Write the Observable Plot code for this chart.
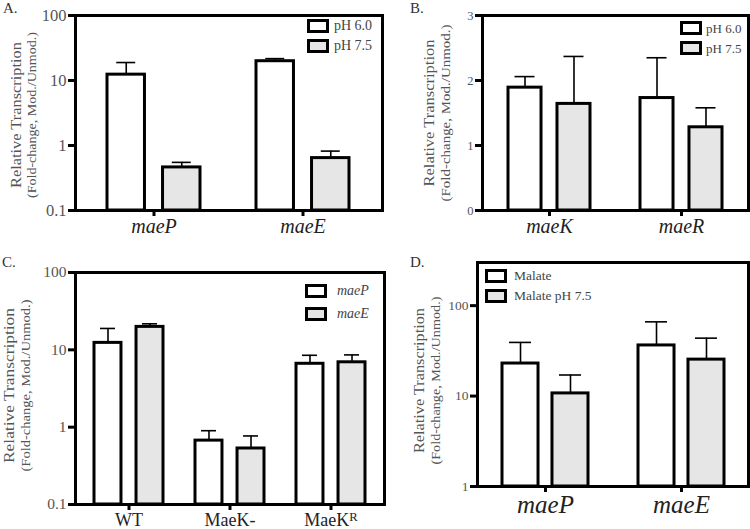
<!DOCTYPE html>
<html><head><meta charset="utf-8">
<script src="https://cdn.jsdelivr.net/npm/d3@7"></script>
<script src="https://cdn.jsdelivr.net/npm/@observablehq/plot@0.6"></script>
<style>
body{margin:0;background:#fff;}
#root{position:relative;width:750px;height:529px;overflow:hidden;font-family:"Times New Roman","Liberation Serif",Tinos,"DejaVu Serif",serif;}
.panel{position:absolute;}
.letter{position:absolute;font-size:15px;color:#333;line-height:1;}
.leg{position:absolute;display:flex;align-items:center;color:#444;white-space:nowrap;line-height:1;}
.sw{box-sizing:border-box;width:22px;height:14px;border:3px solid #000;flex:none;}
</style></head><body><div id="root"></div>
<script>
// ---------------- data ----------------
// Panel A (log scale)
const aGenes = ["maeP", "maeE"];
const aSeries = ["pH 6.0", "pH 7.5"];
const aPH60 = [12.3, 19.8];
const aPH60Err = [6.6, 1.9];
const aPH75 = [0.46, 0.64];
const aPH75Err = [0.09, 0.18];
const aTicks = [0.1, 1, 10, 100];

// Panel B (linear)
const bGenes = ["maeK", "maeR"];
const bSeries = ["pH 6.0", "pH 7.5"];
const bPH60 = [1.89, 1.73];
const bPH60Err = [0.17, 0.62];
const bPH75 = [1.64, 1.28];
const bPH75Err = [0.73, 0.30];
const bTicks = [0, 1, 2, 3];

// Panel C (log)
const cStrains = ["WT", "MaeK-", "MaeKR"];
const cSeries = ["maeP", "maeE"];
const cMaeP = [12.3, 0.67, 6.6];
const cMaePErr = [6.6, 0.23, 1.9];
const cMaeE = [19.8, 0.53, 6.9];
const cMaeEErr = [1.9, 0.24, 1.7];
const cTicks = [0.1, 1, 10, 100];

// Panel D (log)
const dGenes = ["maeP", "maeE"];
const dSeries = ["Malate", "Malate pH 7.5"];
const dMalate = [22.9, 36.3];
const dMalateErr = [16.3, 29.9];
const dMalate75 = [10.7, 25.3];
const dMalate75Err = [6.4, 18.4];
const dTicks = [1, 10, 100];

const fills = ["#ffffff", "#e6e6e6"];
const yLabel1 = "Relative Transcription";
const yLabel2 = "(Fold-change, Mod./Unmod.)";
const FONT = '"Times New Roman", "Liberation Serif", Tinos, "DejaVu Serif", serif';

// ---------------- builder ----------------
const root = document.getElementById("root");

function rowsFor(groups, series, vals, errs) {
  const rows = [];
  series.forEach((s, j) => groups.forEach((g, i) => {
    rows.push({group: g, series: s, si: j, value: vals[j][i], top: vals[j][i] + errs[j][i]});
  }));
  return rows;
}

function makePanel(o) {
  const m = o.margin;
  const fw = o.width - m.left - m.right;
  const n = o.groups.length;
  const step = fw / (n - o.pi + 2 * o.po);
  const bw = step * (1 - o.pi);
  const rows = rowsFor(o.groups, o.series, o.vals, o.errs);
  const marks = [];
  o.series.forEach((s, j) => {
    const data = rows.filter(d => d.si === j);
    const off = (j === 0 ? -1 : 1) * (bw - o.barW) / 2;
    marks.push(Plot.ruleX(data, {x: "group", y1: "value", y2: "top", dx: off, stroke: "#000", strokeWidth: 1.6}));
    marks.push(Plot.tickY(data, {x: "group", y: "top", dx: off, insetLeft: (bw - o.capW) / 2, insetRight: (bw - o.capW) / 2, stroke: "#000", strokeWidth: 1.6}));
    marks.push(Plot.barY(data, {
      x: "group", y1: () => o.domain[0], y2: "value",
      insetLeft: j === 0 ? 0 : bw - o.barW, insetRight: j === 0 ? bw - o.barW : 0,
      fill: fills[j], stroke: "#000", strokeWidth: 3
    }));
  });
  marks.push(Plot.frame({stroke: "#000", strokeWidth: 3}));
  marks.push(Plot.axisY({ticks: o.ticks, tickFormat: d => String(d), tickSize: 7, tickPadding: 2, stroke: "#000", strokeWidth: 3, fill: "#555", fontSize: o.yFont, label: null}));
  marks.push(Plot.axisX({tickSize: 6, tickPadding: o.xPad, stroke: "#000", strokeWidth: 3, fill: "#222", fontSize: o.xFont, fontStyle: o.xItalic ? "italic" : "normal", label: null}));
  marks.push(Plot.text([yLabel1], {frameAnchor: "left", textAnchor: "middle", rotate: -90, dx: o.lab1dx, dy: o.labdy || 0, fontSize: o.lab1size, fill: "#555"}));
  marks.push(Plot.text([yLabel2], {frameAnchor: "left", textAnchor: "middle", rotate: -90, dx: o.lab2dx, dy: o.labdy || 0, fontSize: o.lab2size, fill: "#555"}));
  const chart = Plot.plot({
    width: o.width, height: o.height,
    marginTop: m.top, marginRight: m.right, marginBottom: m.bottom, marginLeft: m.left,
    style: {fontFamily: FONT, background: "transparent", overflow: "visible"},
    x: {type: "band", domain: o.groups, paddingInner: o.pi, paddingOuter: o.po, axis: null},
    y: {type: o.type, domain: o.domain, axis: null},
    marks
  });
  chart.classList.add("panel");
  chart.style.left = o.left + "px";
  chart.style.top = o.top + "px";
  chart.style.fontFamily = FONT;
  root.appendChild(chart);
  // stretch the y-axis title lines to the reference's lengths
  d3.select(chart).selectAll("text").each(function () {
    if (this.textContent === yLabel1) d3.select(this).attr("textLength", o.lab1len).attr("lengthAdjust", "spacingAndGlyphs");
    if (this.textContent === yLabel2) d3.select(this).attr("textLength", o.lab2len).attr("lengthAdjust", "spacingAndGlyphs");
  });
  // legend (HTML overlay inside the frame)
  const leg = o.legend;
  o.series.forEach((s, j) => {
    const d = document.createElement("div");
    d.className = "leg";
    d.style.left = leg.x + "px";
    d.style.top = (leg.y + j * leg.dy) + "px";
    d.style.fontSize = leg.size + "px";
    if (leg.italic) d.style.fontStyle = "italic";
    const sw = document.createElement("div");
    sw.className = "sw";
    sw.style.background = fills[j];
    sw.style.marginRight = leg.gap + "px";
    d.appendChild(sw);
    const t = document.createElement("span");
    t.textContent = s;
    d.appendChild(t);
    root.appendChild(d);
  });
  const L = document.createElement("div");
  L.className = "letter";
  L.textContent = o.letter;
  L.style.left = o.letterPos[0] + "px";
  L.style.top = o.letterPos[1] + "px";
  root.appendChild(L);
  return chart;
}

makePanel({
  letter: "A.", letterPos: [3, 1],
  left: 0, top: 0, width: 385, height: 262,
  margin: {top: 15, right: 3, bottom: 52, left: 75},
  groups: aGenes, series: aSeries, vals: [aPH60, aPH75], errs: [aPH60Err, aPH75Err],
  type: "log", domain: [0.1, 100], ticks: aTicks,
  pi: 0.373, po: 0.21, barW: 38.5, capW: 20,
  yFont: 16.5, xFont: 20, xItalic: true, xPad: 2,
  lab1dx: -59, lab1size: 15, lab1len: 146, lab2dx: -44, lab2size: 12.5, lab2len: 166, labdy: 2,
  legend: {x: 307, y: 19, dy: 20, size: 14, gap: 5}
});

makePanel({
  letter: "B.", letterPos: [410, 1],
  left: 385, top: 0, width: 365, height: 262,
  margin: {top: 15, right: 2, bottom: 52, left: 97},
  groups: bGenes, series: bSeries, vals: [bPH60, bPH75], errs: [bPH60Err, bPH75Err],
  type: "linear", domain: [0, 3], ticks: bTicks,
  pi: 0.379, po: 0.197, barW: 33, capW: 20,
  yFont: 12.5, xFont: 20, xItalic: true, xPad: 2,
  lab1dx: -53, lab1size: 15, lab1len: 147, lab2dx: -37, lab2size: 12.5, lab2len: 177, labdy: 0,
  legend: {x: 680, y: 21, dy: 20, size: 13, gap: 4}
});

const cChart = makePanel({
  letter: "C.", letterPos: [2, 255],
  left: 0, top: 262, width: 387, height: 267,
  margin: {top: 10, right: 3, bottom: 25, left: 75},
  groups: cStrains, series: cSeries, vals: [cMaeP, cMaeE], errs: [cMaePErr, cMaeEErr],
  type: "log", domain: [0.1, 100], ticks: cTicks,
  pi: 0.312, po: 0.174, barW: 28, capW: 16,
  yFont: 15.5, xFont: 18, xItalic: false, xPad: 3,
  lab1dx: -66, lab1size: 15.5, lab1len: 155, lab2dx: -50, lab2size: 13, lab2len: 172, labdy: -3,
  legend: {x: 305, y: 284, dy: 23, size: 14, italic: true, gap: 10}
});

makePanel({
  letter: "D.", letterPos: [410, 255],
  left: 387, top: 255, width: 363, height: 274,
  margin: {top: 7, right: 2, bottom: 43, left: 90},
  groups: dGenes, series: dSeries, vals: [dMalate, dMalate75], errs: [dMalateErr, dMalate75Err],
  type: "log", domain: [1, 300], ticks: dTicks,
  pi: 0.368, po: 0.18, barW: 36, capW: 22,
  yFont: 13.5, xFont: 25, xItalic: true, xPad: 3,
  lab1dx: -58, lab1size: 15, lab1len: 145, lab2dx: -42, lab2size: 12.5, lab2len: 168, labdy: 6,
  legend: {x: 485, y: 269, dy: 20, size: 13.5, gap: 7}
});

// superscript R on the MaeKR tick label
d3.select(cChart).selectAll("text").filter(function () { return this.textContent === "MaeKR"; })
  .each(function () {
    const t = d3.select(this);
    t.text("MaeK");
    t.append("tspan").attr("dy", "-0.45em").attr("font-size", "0.7em").text("R");
  });
</script>
</body></html>
